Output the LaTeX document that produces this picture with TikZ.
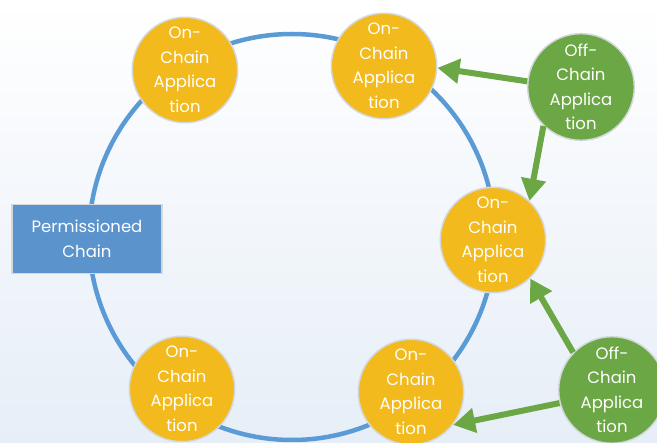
\documentclass[tikz,border=0pt]{standalone}
\usepackage{fontspec}
\setmainfont{Poppins}
\usepackage{tikz}
\usetikzlibrary{arrows.meta}
\definecolor{chainblue}{HTML}{5B93CC}
\definecolor{ringblue}{HTML}{5B9BD5}
\definecolor{onyellow}{HTML}{F2BA1D}
\definecolor{offgreen}{HTML}{6BA745}
\definecolor{rimgray}{HTML}{D4D8DD}
\definecolor{backblue}{HTML}{E6EEF7}

\begin{document}
\begin{tikzpicture}[x=1pt,y=-1pt]
\tikzstyle{every node}+=[inner sep=0pt, text=white, align=center, font=\fontsize{16.5}{24.5}\selectfont]
\tikzstyle{onchain}=[circle, minimum size=104pt, fill=onyellow, draw=rimgray, line width=1.5pt]
\tikzstyle{offchain}=[circle, minimum size=105pt, fill=offgreen, draw=rimgray, line width=1.5pt]
\tikzstyle{feed}=[offgreen, line width=6pt, -{Triangle[length=22pt,width=24pt]}]
\shade [top color=white, bottom color=backblue] (0,0) rectangle (657,443);
\useasboundingbox (0,0) rectangle (657,443);
\draw [ringblue, line width=4.5pt] (292,237) circle (203);
\node [fill=chainblue, draw=rimgray, line width=1.5pt, minimum width=150pt, minimum height=69pt] (perm) at (87,239) {Permissioned\\Chain};
\node [onchain] (on1) at (185,70) {On-\\Chain\\Applica\\tion};
\node [onchain] (on2) at (384,66) {On-\\Chain\\Applica\\tion};
\node [onchain] (on3) at (493,240) {On-\\Chain\\Applica\\tion};
\node [onchain] (on4) at (182,389) {On-\\Chain\\Applica\\tion};
\node [onchain] (on5) at (411,392) {On-\\Chain\\Applica\\tion};
\node [offchain] (off1) at (581,87) {Off-\\Chain\\Applica\\tion};
\node [offchain] (off2) at (612,390) {Off-\\Chain\\Applica\\tion};
\draw [feed] (off1.174) -- (on2.-2);
\draw [feed] (off1.-134) -- (on3.47);
\draw [feed] (off2.136) -- (on3.-46);
\draw [feed] (off2.194) -- (on5.-38);
\end{tikzpicture}
\end{document}
